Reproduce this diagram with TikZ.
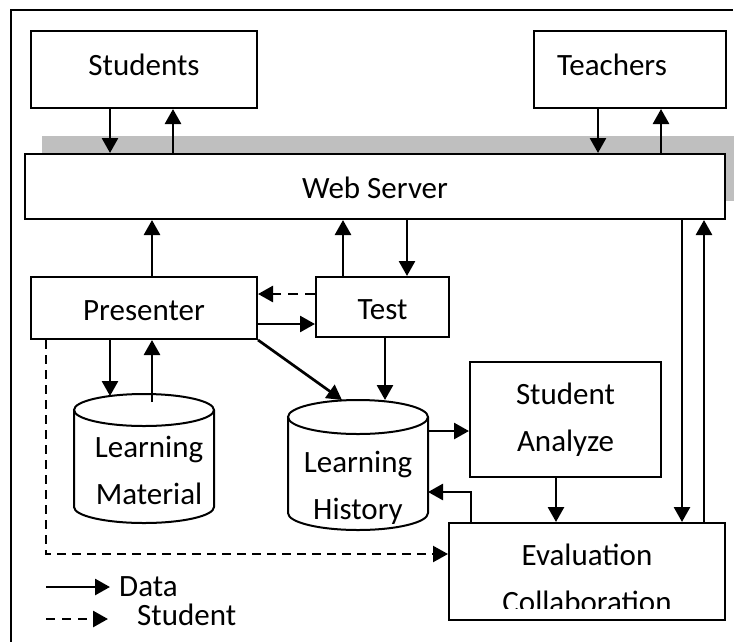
\documentclass[tikz,border=0pt]{standalone}
\usepackage{fontspec}
\setmainfont{Carlito}
\usetikzlibrary{arrows.meta}
\newcommand\dfont{\fontsize{31}{47}\selectfont}
\begin{document}
\begin{tikzpicture}[x=1pt,y=-1pt,
  box/.style={draw, line width=2pt, inner sep=0pt, font=\dfont, fill=white},
  lbl/.style={inner sep=0pt, font=\dfont, align=center},
  arr/.style={line width=2.7pt, -{Triangle[length=15pt,width=16pt]}},
  dsh/.style={arr, dash pattern=on 10pt off 7pt},
  cyl/.style={line width=2pt}]
\useasboundingbox (0,0) rectangle (734,641);
% outer frame
\draw[line width=2pt] (11,645) -- (11,10) -- (733,10);
% shadow of web server
\fill[black!25] (42,136) rectangle (742,201);
% boxes
\node[box, minimum width=226, minimum height=77, text height=22pt, text depth=11pt] (students) at (144,69.5) {Students};
\node[box, minimum width=192, minimum height=77, text height=22pt, text depth=11pt, text width=146pt, align=left] (teachers) at (630,69.5) {Teachers};
\node[box, minimum width=700, minimum height=65, text height=24pt, text depth=0pt] (web) at (375,186.5) {Web Server};
\node[box, minimum width=226, minimum height=62, text height=24pt, text depth=0pt] (presenter) at (144,308) {Presenter};
\node[box, minimum width=133, minimum height=60, text height=24pt, text depth=0pt] (test) at (382.5,307) {Test};
\node[box, minimum width=191, minimum height=115, align=center] (sa) at (565.5,419.5) {Student\\Analyze};
\node[box, minimum width=276, minimum height=97] (eval) at (587,571.5) {};
\begin{scope}
\clip (451,525) rectangle (723,608);
\node[lbl] (evaltext) at (587,578.5) {Evaluation\\Collaboration};
\end{scope}
% cylinders
\draw[cyl] (74,410) -- (74,507) arc[start angle=180,end angle=0,x radius=70,y radius=16] -- (214,410);
\draw[cyl] (144,410) ellipse[x radius=70,y radius=16];
\node[lbl] (lm) at (149,470) {Learning\\Material};
\draw[cyl] (288,417) -- (288,513) arc[start angle=180,end angle=0,x radius=70,y radius=17] -- (428,417);
\draw[cyl] (358,417) ellipse[x radius=70,y radius=17];
\node[lbl] (lh) at (358,488) {Learning\\History};
\coordinate (lmA) at (110,396);
\coordinate (lmB) at (152,402);
\coordinate (lhA) at (342,400);
\coordinate (lhB) at (385,400);
\coordinate (lhC) at (428,431);
\coordinate (lhD) at (428,492);
% connectors
\draw[arr] ([xshift=-34pt]students.south) -- ([xshift=-34pt]students.south |- web.north);
\draw[arr] ([xshift=29pt]students.south |- web.north) -- ([xshift=29pt]students.south);
\draw[arr] ([xshift=-32pt]teachers.south) -- ([xshift=-32pt]teachers.south |- web.north);
\draw[arr] ([xshift=31pt]teachers.south |- web.north) -- ([xshift=31pt]teachers.south);
\draw[arr] ([xshift=8pt]presenter.north) -- ([xshift=8pt]presenter.north |- web.south);
\draw[arr] ([xshift=-39.5pt]test.north) -- ([xshift=-39.5pt]test.north |- web.south);
\draw[arr] ([xshift=24.5pt]test.north |- web.south) -- ([xshift=24.5pt]test.north);
\draw[arr] ([xshift=95pt]eval.north |- web.south) -- ([xshift=95pt]eval.north);
\draw[arr] ([xshift=117pt]eval.north) -- ([xshift=117pt]eval.north |- web.south);
\draw[dsh] ([yshift=13pt]test.west) -- ([yshift=13pt]test.west -| presenter.east);
\draw[arr] ([yshift=-16pt]presenter.east) -- ([yshift=-16pt]presenter.east -| test.west);
\draw[arr] ([xshift=-34pt]presenter.south) -- (lmA);
\draw[arr] (lmB) -- ([xshift=8pt]presenter.south);
\draw[arr] (presenter.south east) -- (lhA);
\draw[arr] ([xshift=2.5pt]test.south) -- (lhB);
\draw[arr] (lhC) -- (lhC -| sa.west);
\draw[arr] ([xshift=-9.5pt]sa.south) -- ([xshift=-9.5pt]sa.south |- eval.north);
\draw[arr] ([xshift=-116pt]eval.north) |- (lhD);
\draw[arr, line width=2.2pt, dash pattern=on 9pt off 6pt] ([xshift=-98pt]presenter.south) |- ([yshift=17.5pt]eval.west);
% legend
\coordinate (l1a) at (46,587);
\coordinate (l1b) at (110,587);
\coordinate (l2a) at (46,619);
\coordinate (l2b) at (108,619);
\draw[arr] (l1a) -- (l1b);
\draw[dsh, dash pattern=on 9pt off 7pt] (l2a) -- (l2b);
\node[inner sep=0pt, font=\dfont, anchor=base west] (ldata) at (119,596) {Data};
\node[inner sep=0pt, font=\dfont, anchor=base west] (lstudent) at (137,625) {Student};
\end{tikzpicture}
\end{document}
